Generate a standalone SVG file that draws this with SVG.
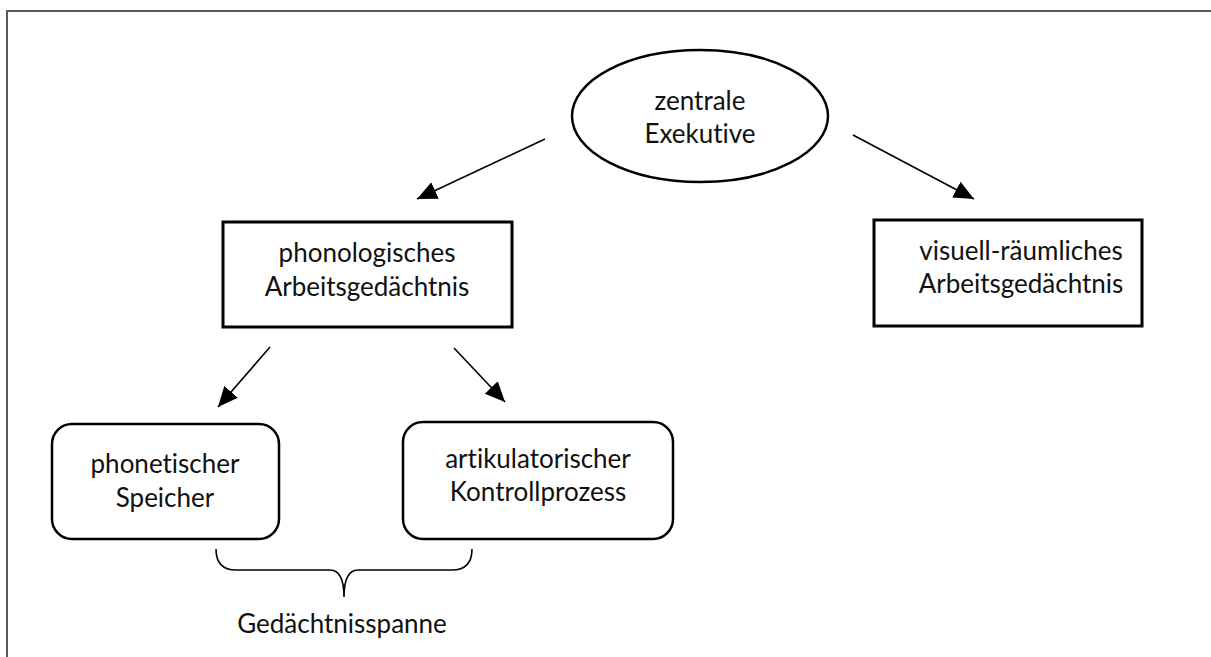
<svg xmlns="http://www.w3.org/2000/svg" width="1211" height="657" viewBox="0 0 1211 657">
<defs>
<marker id="arr" markerUnits="userSpaceOnUse" markerWidth="22" markerHeight="20" refX="20" refY="9" orient="auto">
<path d="M0,0 L20,9 L0,18 z" fill="#000"/>
</marker>
<style>
.t{font-family:Lato,"Open Sans",sans-serif;font-size:26px;fill:#111;text-anchor:middle;font-variant-ligatures:none;font-feature-settings:"liga" 0}
.box{fill:#fff;stroke:#000;stroke-width:3}
.rbox{fill:#fff;stroke:#000;stroke-width:2.5}
.c{stroke:#000;stroke-width:1.6;fill:none}
</style>
</defs>
<rect x="0" y="0" width="1211" height="657" fill="#fff"/>
<path d="M7,657 V11 H1211" fill="none" stroke="#5a5a5a" stroke-width="2"/>
<g id="connectors">
<line class="c" x1="545" y1="139" x2="417" y2="199" marker-end="url(#arr)"/>
<line class="c" x1="853" y1="135" x2="974" y2="199" marker-end="url(#arr)"/>
<line class="c" x1="270" y1="347" x2="218" y2="407" marker-end="url(#arr)"/>
<line class="c" x1="454" y1="348" x2="505" y2="402" marker-end="url(#arr)"/>
<path class="c" d="M216,549 Q216,570 236,570 H330 Q344,570 344,597 Q344,570 358,570 H452 Q472,570 472,549"/>
</g>
<g id="zentrale">
<ellipse cx="700" cy="116" rx="128" ry="66" fill="#fff" stroke="#000" stroke-width="2.5"/>
<text class="t" x="700" y="110">zentrale</text>
<text class="t" x="700" y="143">Exekutive</text>
</g>
<g id="phonologisch">
<rect class="box" x="223" y="222" width="289" height="105"/>
<text class="t" x="367" y="262">phonologisches</text>
<text class="t" x="367" y="296">Arbeitsgedächtnis</text>
</g>
<g id="visuell">
<rect class="box" x="874" y="220" width="268" height="106"/>
<text class="t" x="1021" y="260">visuell-räumliches</text>
<text class="t" x="1021" y="293">Arbeitsgedächtnis</text>
</g>
<g id="phonetisch">
<rect class="rbox" x="52" y="424" width="227" height="115" rx="20"/>
<text class="t" x="165" y="473">phonetischer</text>
<text class="t" x="165" y="507">Speicher</text>
</g>
<g id="artikulatorisch">
<rect class="rbox" x="403" y="422" width="270" height="117" rx="20"/>
<text class="t" x="538" y="468">artikulatorischer</text>
<text class="t" x="538" y="501">Kontrollprozess</text>
</g>
<g id="spanne">
<text class="t" x="342" y="633">Gedächtnisspanne</text>
</g>
</svg>
